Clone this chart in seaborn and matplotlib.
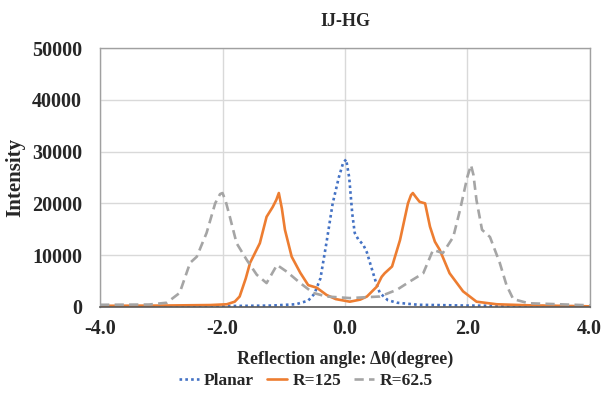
import numpy as np
import pandas as pd
import matplotlib
matplotlib.use("Agg")
import matplotlib.pyplot as plt
import seaborn as sns

# values
planar_x = [-4.0, -3.0, -2.0, -1.2, -0.8, -0.6, -0.5, -0.4, -0.3, -0.2, -0.1, -0.03, 0.02,
            0.07, 0.12, 0.16, 0.22, 0.3, 0.36, 0.41, 0.5, 0.57, 0.7, 0.85, 1.2, 2.0, 3.0, 4.0]
planar_y = [100, 100, 150, 250, 500, 1200, 2500, 5500, 12500, 20000, 25000, 27800, 28500,
            25000, 18000, 14300, 13000, 12000, 10500, 8500, 5000, 2700, 1300, 800, 400, 250, 150, 100]

r125_x = [-4.0, -3.0, -2.2, -1.93, -1.8, -1.72, -1.62, -1.55, -1.39, -1.28, -1.18, -1.12, -1.08,
          -1.03, -0.98, -0.87, -0.73, -0.6, -0.46, -0.3, -0.15, 0.08, 0.25, 0.36, 0.52, 0.6,
          0.65, 0.77, 0.9, 1.03, 1.08, 1.11, 1.16, 1.22, 1.31, 1.39, 1.47, 1.55, 1.71, 1.93,
          2.15, 2.48, 3.0, 4.0]
r125_y = [200, 250, 350, 500, 1000, 2000, 5500, 8500, 12300, 17400, 19300, 20700, 22000,
          19000, 14900, 9700, 6600, 4200, 3700, 2300, 1500, 1000, 1400, 2000, 3900, 5800,
          6500, 7800, 12900, 20000, 21600, 22000, 21200, 20300, 20000, 15500, 12600, 11000,
          6500, 3000, 1000, 500, 300, 100]

r625_x = [-4.0, -3.2, -2.91, -2.7, -2.53, -2.42, -2.26, -2.12, -2.04, -2.0, -1.95, -1.88,
          -1.77, -1.6, -1.44, -1.28, -1.11, -0.95, -0.73, -0.52, -0.3, 0.08, 0.57, 0.85,
          1.06, 1.28, 1.44, 1.6, 1.77, 1.88, 2.0, 2.06, 2.1, 2.15, 2.24, 2.37, 2.53, 2.64,
          2.75, 3.0, 4.0]
r625_y = [400, 450, 800, 2700, 8500, 9700, 14300, 20000, 21800, 22000, 20500, 17400,
          12300, 9000, 6200, 4600, 8100, 6800, 4600, 2700, 2000, 1700, 2000, 3300,
          4900, 6500, 11000, 10400, 13500, 18700, 25100, 27400, 25500, 20600, 14900, 13500,
          8500, 4200, 1500, 700, 300]

series = [
    ("Planar", planar_x, planar_y, "#4472C4", (0, (1, 1.2))),
    ("R=125", r125_x, r125_y, "#ED7D31", "-"),
    ("R=62.5", r625_x, r625_y, "#A5A5A5", (0, (3.5, 2))),
]

sns.set_theme(style="white")
plt.rcParams["font.family"] = ["Liberation Serif", "DejaVu Serif"]
plt.rcParams["font.weight"] = "bold"

fig, ax = plt.subplots(figsize=(6.03, 3.98), dpi=100)
fig.subplots_adjust(left=0.166, right=0.978, top=0.879, bottom=0.229)

for name, xs, ys, color, ls in series:
    df = pd.DataFrame({"x": xs, "y": ys})
    sns.lineplot(data=df, x="x", y="y", ax=ax, color=color, linestyle=ls,
                 linewidth=1.9, label=name)

ax.set_xlim(-4, 4)
ax.set_ylim(0, 50000)
ax.set_xticks([-4, -2, 0, 2, 4])
ax.set_xticklabels(["-4.0", "-2.0", "0.0", "2.0", "4.0"])
ax.set_yticks(range(0, 50001, 10000))
ax.grid(True, color="#D9D9D9", linewidth=1.0)
ax.set_axisbelow(True)
for s in ["top", "right", "left"]:
    ax.spines[s].set_color("#A0A0A0")
    ax.spines[s].set_linewidth(1.0)
ax.spines["bottom"].set_color("#595959")
ax.spines["bottom"].set_linewidth(1.2)
ax.tick_params(axis="both", labelsize=14.5, length=0)
ax.tick_params(axis="y", pad=13)
ax.tick_params(axis="x", pad=9)
for lab in ax.get_xticklabels() + ax.get_yticklabels():
    lab.set_fontweight("bold")

ax.set_xlabel("Reflection angle: \u0394\u03b8(degree)", fontsize=13, fontweight="bold",
              labelpad=8)
ax.set_ylabel("Intensity", fontsize=15, fontweight="bold")
ax.yaxis.set_label_coords(-0.152, 0.5)
ax.set_title("IJ-HG", fontsize=13, fontweight="bold", pad=16)

ax.legend(loc="center", bbox_to_anchor=(0.42, -0.285), ncol=3, frameon=False,
          prop={"size": 12.5, "weight": "bold"}, handlelength=1.15, columnspacing=0.75,
          handletextpad=0.3)

fig.savefig("out.png", dpi=100)
